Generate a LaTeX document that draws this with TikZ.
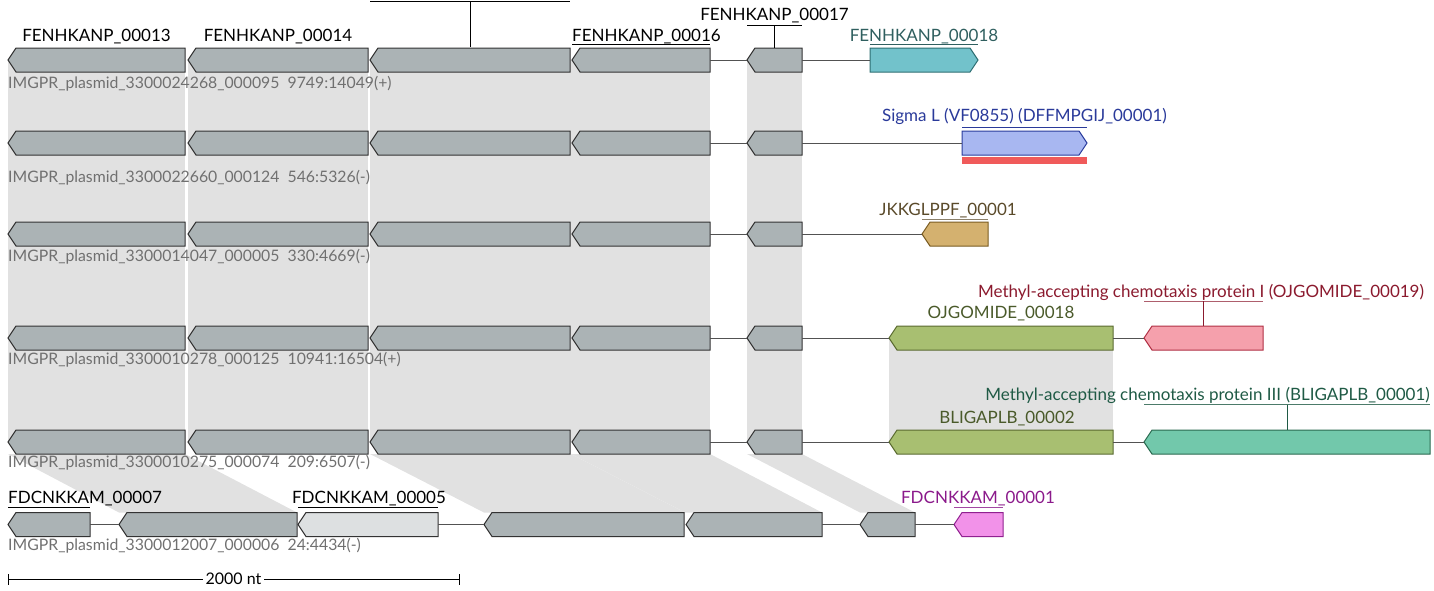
\documentclass[tikz,border=0pt]{standalone}
\usepackage{fontspec}
\setmainfont{Lato}
\definecolor{genegray}{HTML}{ABB3B5}
\definecolor{genelight}{HTML}{DDE0E1}
\definecolor{bandgray}{HTML}{E1E1E1}
\definecolor{seqgray}{HTML}{707070}
\definecolor{edgedark}{HTML}{333333}
\definecolor{cyanfill}{HTML}{72C2CB}
\definecolor{cyanedge}{HTML}{2E6E72}
\definecolor{cyantext}{HTML}{2F5F5F}
\definecolor{bluefill}{HTML}{A8B7F1}
\definecolor{blueedge}{HTML}{2A3C9C}
\definecolor{bluetext}{HTML}{2A3A9A}
\definecolor{redbar}{HTML}{F05A5A}
\definecolor{tanfill}{HTML}{D4B16F}
\definecolor{tanedge}{HTML}{7A5C22}
\definecolor{tantext}{HTML}{5A4A2A}
\definecolor{greenfill}{HTML}{A8BF71}
\definecolor{greenedge}{HTML}{5A6A30}
\definecolor{greentext}{HTML}{4A5A2A}
\definecolor{pinkfill}{HTML}{F5A0AC}
\definecolor{pinkedge}{HTML}{B03044}
\definecolor{pinktext}{HTML}{8B1A2E}
\definecolor{tealfill}{HTML}{72C8AB}
\definecolor{tealedge}{HTML}{2A6A50}
\definecolor{tealtext}{HTML}{1F5A45}
\definecolor{magfill}{HTML}{F292E9}
\definecolor{magedge}{HTML}{902090}
\definecolor{magtext}{HTML}{8B1A8B}
\tikzset{
  lbl/.style={font=\fontsize{17}{20}\selectfont, inner sep=0pt, anchor=base},
  seq/.style={font=\fontsize{15.8}{18}\selectfont, text=seqgray, inner sep=0pt, anchor=base west},
  band/.style={fill=bandgray, draw=none},
  gg/.style={fill=genegray, draw=edgedark, line width=1pt},
  gl/.style={fill=genelight, draw=edgedark, line width=1pt},
  gcyan/.style={fill=cyanfill, draw=cyanedge, line width=1pt},
  gblue/.style={fill=bluefill, draw=blueedge, line width=1pt},
  gtan/.style={fill=tanfill, draw=tanedge, line width=1pt},
  ggreen/.style={fill=greenfill, draw=greenedge, line width=1pt},
  gpink/.style={fill=pinkfill, draw=pinkedge, line width=1pt},
  gteal/.style={fill=tealfill, draw=tealedge, line width=1pt},
  gmag/.style={fill=magfill, draw=magedge, line width=1pt},
  link/.style={draw=edgedark!85, line width=1pt},
  uline/.style={line width=1pt},
}
% leftward gene: name, tip x, end x, centre y, style
\newcommand{\gL}[5]{%
  \filldraw[#5] (#2,#4) -- (#2+8,#4-12) -- (#3,#4-12) -- (#3,#4+12) -- (#2+8,#4+12) -- cycle;
  \coordinate (#1-l) at (#2,#4); \coordinate (#1-r) at (#3,#4);
  \coordinate (#1-tl) at (#2,#4-12); \coordinate (#1-tr) at (#3,#4-12);}
% rightward gene: name, start x, tip x, centre y, style
\newcommand{\gR}[5]{%
  \filldraw[#5] (#2,#4-12) -- (#3-8,#4-12) -- (#3,#4) -- (#3-8,#4+12) -- (#2,#4+12) -- cycle;
  \coordinate (#1-l) at (#2,#4); \coordinate (#1-r) at (#3,#4);
  \coordinate (#1-tl) at (#2,#4-12); \coordinate (#1-tr) at (#3,#4-12);}
\begin{document}
\begin{tikzpicture}[x=1pt,y=-1pt]
\useasboundingbox (0,0) rectangle (1434,590);
% ---- homology bands ----
\fill[band] (8,60) rectangle (185,442);
\fill[band] (188,60) rectangle (368,442);
\fill[band] (370,60) rectangle (571,442);
\fill[band] (571,60) rectangle (710,442);
\fill[band] (747,60) rectangle (802,442);
\fill[band] (889,338) rectangle (1113,442);
\fill[band] (8,454) -- (185,454) -- (297,512.5) -- (119,512.5) -- cycle;
\fill[band] (370,454) -- (571,454) -- (685,512.5) -- (484,512.5) -- cycle;
\fill[band] (571,454) -- (710,454) -- (822,512.5) -- (685,512.5) -- cycle;
\fill[band] (747,454) -- (802,454) -- (915,512.5) -- (860,512.5) -- cycle;
% ---- row 1 ----
\gL{a1}{8}{185}{60}{gg}
\gL{b1}{188}{368}{60}{gg}
\gL{c1}{370}{570}{60}{gg}
\gL{d1}{572}{710}{60}{gg}
\gL{e1}{747}{802}{60}{gg}
\gR{f1}{870}{978}{60}{gcyan}
\draw[link] (d1-r) -- (e1-l);
\draw[link] (e1-r) -- (f1-l);
% ---- row 2 ----
\gL{a2}{8}{185}{143}{gg}
\gL{b2}{188}{368}{143}{gg}
\gL{c2}{370}{570}{143}{gg}
\gL{d2}{572}{710}{143}{gg}
\gL{e2}{747}{802}{143}{gg}
\gR{f2}{962}{1087}{143}{gblue}
\draw[link] (d2-r) -- (e2-l);
\draw[link] (e2-r) -- (f2-l);
\fill[redbar] (962,157) rectangle (1087,164);
% ---- row 3 ----
\gL{a3}{8}{185}{234}{gg}
\gL{b3}{188}{368}{234}{gg}
\gL{c3}{370}{570}{234}{gg}
\gL{d3}{572}{710}{234}{gg}
\gL{e3}{747}{802}{234}{gg}
\gL{f3}{922}{988}{234}{gtan}
\draw[link] (d3-r) -- (e3-l);
\draw[link] (e3-r) -- (f3-l);
% ---- row 4 ----
\gL{a4}{8}{185}{338}{gg}
\gL{b4}{188}{368}{338}{gg}
\gL{c4}{370}{570}{338}{gg}
\gL{d4}{572}{710}{338}{gg}
\gL{e4}{747}{802}{338}{gg}
\gL{f4}{889}{1113}{338}{ggreen}
\gL{g4}{1144}{1263}{338}{gpink}
\draw[link] (d4-r) -- (e4-l);
\draw[link] (e4-r) -- (f4-l);
\draw[link] (f4-r) -- (g4-l);
% ---- row 5 ----
\gL{a5}{8}{185}{442}{gg}
\gL{b5}{188}{368}{442}{gg}
\gL{c5}{370}{570}{442}{gg}
\gL{d5}{572}{710}{442}{gg}
\gL{e5}{747}{802}{442}{gg}
\gL{f5}{889}{1113}{442}{ggreen}
\gL{g5}{1144}{1430}{442}{gteal}
\draw[link] (d5-r) -- (e5-l);
\draw[link] (e5-r) -- (f5-l);
\draw[link] (f5-r) -- (g5-l);
% ---- row 6 ----
\gL{a6}{8}{90}{524.5}{gg}
\gL{b6}{119}{297}{524.5}{gg}
\gL{c6}{298}{438}{524.5}{gl}
\gL{d6}{484}{684}{524.5}{gg}
\gL{e6}{686}{822}{524.5}{gg}
\gL{f6}{860}{915}{524.5}{gg}
\gL{g6}{954}{1003}{524.5}{gmag}
\draw[link] (a6-r) -- (b6-l);
\draw[link] (c6-r) -- (d6-l);
\draw[link] (e6-r) -- (f6-l);
\draw[link] (f6-r) -- (g6-l);
% ---- gene labels row 1 ----
\node[lbl] (t13) at (96.5,41) {FENHKANP\_00013};
\node[lbl] (t14) at (278,41) {FENHKANP\_00014};
\coordinate (u15a) at (370,1.5); \coordinate (u15b) at (570,1.5);
\draw[uline] (u15a) -- (u15b);
\draw[uline] (470,1.5) -- (470,47);
\node[lbl, anchor=base west] (t16) at (572,41) {FENHKANP\_00016};
\draw[uline] (t16.south west |- 0,44) -- (d1-tr |- 0,44);
\node[lbl] (t17) at (774.5,20) {FENHKANP\_00017};
\draw[uline] (747,25) -- (802,25);
\draw[uline] (774.5,25) -- (774.5,48);
\node[lbl, text=cyantext] (t18) at (924,41) {FENHKANP\_00018};
\draw[uline, cyantext] (870,44.5) -- (978,44.5);
% ---- row 2 ----
\node[lbl, text=bluetext] (tsig) at (1024.5,121) {Sigma L (VF0855) (DFFMPGIJ\_00001)};
\draw[uline, bluetext] (962,127.5) -- (1087,127.5);
% ---- row 3 ----
\node[lbl, text=tantext] (tjk) at (948,215) {JKKGLPPF\_00001};
\draw[uline, tantext!70] (922,219) -- (988,219);
% ---- row 4 ----
\node[lbl, text=pinktext] (tm1) at (1201,297) {Methyl-accepting chemotaxis protein I (OJGOMIDE\_00019)};
\draw[uline, pinktext!70] (1144,301) -- (1263,301);
\draw[uline, pinktext] (1203.5,301) -- (1203.5,326);
\node[lbl, text=greentext] (toj) at (1001,318) {OJGOMIDE\_00018};
% ---- row 5 ----
\node[lbl, text=tealtext, anchor=base east] (tm3) at (1430,400) {Methyl-accepting chemotaxis protein III (BLIGAPLB\_00001)};
\draw[uline, tealtext!80] (1144,404.5) -- (1430,404.5);
\draw[uline, tealtext] (1287,404.5) -- (1287,430);
\node[lbl, text=greentext] (tbl) at (1007,423) {BLIGAPLB\_00002};
% ---- row 6 ----
\node[lbl, anchor=base west] (tf7) at (8,503) {FDCNKKAM\_00007};
\draw[uline] (8,507.5) -- (90,507.5);
\node[lbl] (tf5) at (369,503) {FDCNKKAM\_00005};
\draw[uline] (298,507.5) -- (438,507.5);
\node[lbl, text=magtext] (tf1) at (978,503) {FDCNKKAM\_00001};
\draw[uline, magtext!80] (954,507.5) -- (1003,507.5);
% ---- sequence labels ----
\node[seq] (s1) at (8,88) {IMGPR\_plasmid\_3300024268\_000095\ \ 9749:14049(+)};
\node[seq] (s2) at (8,182) {IMGPR\_plasmid\_3300022660\_000124\ \ 546:5326(-)};
\node[seq] (s3) at (8,261) {IMGPR\_plasmid\_3300014047\_000005\ \ 330:4669(-)};
\node[seq] (s4) at (8,364) {IMGPR\_plasmid\_3300010278\_000125\ \ 10941:16504(+)};
\node[seq] (s5) at (8,467) {IMGPR\_plasmid\_3300010275\_000074\ \ 209:6507(-)};
\node[seq] (s6) at (8,550) {IMGPR\_plasmid\_3300012007\_000006\ \ 24:4434(-)};
% ---- scale bar ----
\coordinate (sbl) at (8,579); \coordinate (sbr) at (459,579);
\draw[line width=1pt] (sbl) -- (sbr);
\draw[line width=1pt] (8,574) -- (8,585);
\draw[line width=1pt] (459,574) -- (459,585);
\node[fill=white, inner sep=3pt, font=\fontsize{16}{18}\selectfont] (sbt) at (233.5,579) {2000 nt};
\end{tikzpicture}
\end{document}
